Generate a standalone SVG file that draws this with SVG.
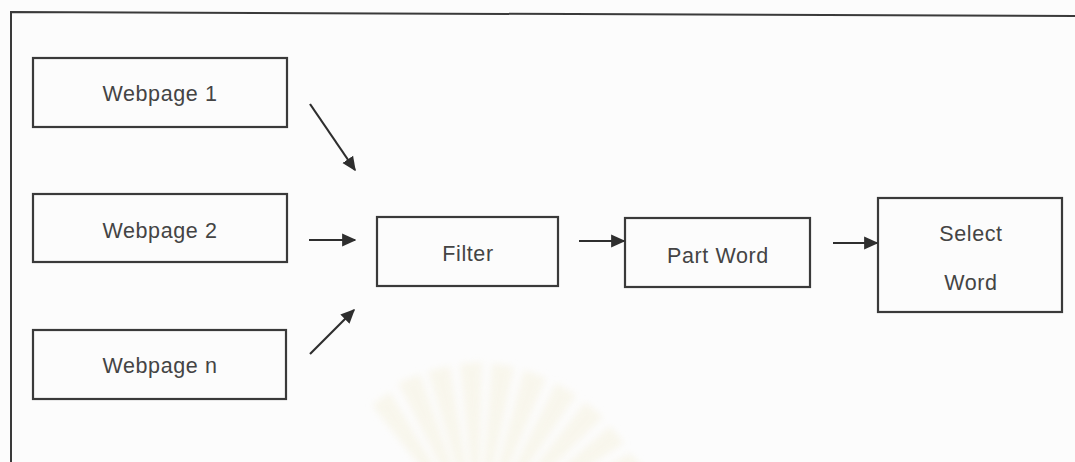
<svg xmlns="http://www.w3.org/2000/svg" width="1075" height="462" viewBox="0 0 1075 462">
  <style>
    .box { fill: none; stroke: #3a3a3a; stroke-width: 2.2; }
    .frame { fill: none; stroke: #3a3a3a; stroke-width: 2; }
    .label { font-family: "Liberation Sans", Arial, sans-serif; font-size: 21.5px; fill: #444; text-anchor: middle; letter-spacing: 0.6px; }
    .edge { stroke: #2e2e2e; stroke-width: 2.2; fill: none; marker-end: url(#arrow); }
  </style>
  <defs>
    <marker id="arrow" viewBox="0 0 10 10" refX="9" refY="5" markerWidth="6.5" markerHeight="6.5" markerUnits="strokeWidth" orient="auto">
      <path d="M0,0.5 L10,5 L0,9.5 z" fill="#2e2e2e"/>
    </marker>
    <filter id="soft" x="-20%" y="-20%" width="140%" height="140%">
      <feGaussianBlur stdDeviation="3.5"/>
    </filter>
  </defs>

  <rect x="0" y="0" width="1075" height="462" fill="#fcfcfc"/>

  <!-- faint fan emblem in the background -->
  <g id="emblem" filter="url(#soft)" fill="#f7f4e6" opacity="0.7">
    <path d="M478,540 L398,383 L420,374 Z"/>
    <path d="M478,540 L428,371 L450,366 Z"/>
    <path d="M478,540 L460,364 L482,362 Z"/>
    <path d="M478,540 L492,363 L514,367 Z"/>
    <path d="M478,540 L524,370 L546,378 Z"/>
    <path d="M478,540 L556,383 L576,395 Z"/>
    <path d="M478,540 L585,402 L603,417 Z"/>
    <path d="M478,540 L610,426 L624,443 Z"/>
    <path d="M478,540 L630,453 L645,470 Z"/>
    <path d="M478,540 L372,405 L390,392 Z"/>
  </g>

  <!-- outer frame: top and left edges -->
  <path class="frame" d="M11,462 L11,12 L1075,16"/>

  <g id="webpage1">
    <rect class="box" x="33" y="58" width="254" height="69"/>
    <text class="label" x="160" y="101">Webpage 1</text>
  </g>
  <g id="webpage2">
    <rect class="box" x="33" y="194" width="254" height="68"/>
    <text class="label" x="160" y="238">Webpage 2</text>
  </g>
  <g id="webpagen">
    <rect class="box" x="33" y="330" width="253" height="69"/>
    <text class="label" x="160" y="373">Webpage n</text>
  </g>
  <g id="filter">
    <rect class="box" x="377" y="217" width="181" height="69"/>
    <text class="label" x="468" y="261">Filter</text>
  </g>
  <g id="partword">
    <rect class="box" x="625" y="218" width="185" height="69"/>
    <text class="label" x="718" y="263">Part Word</text>
  </g>
  <g id="selectword">
    <rect class="box" x="878" y="198" width="184" height="114"/>
    <text class="label" x="971" y="241">Select</text>
    <text class="label" x="971" y="290">Word</text>
  </g>

  <g id="connectors">
    <line class="edge" x1="310" y1="104" x2="355" y2="170"/>
    <line class="edge" x1="309" y1="240" x2="355" y2="240"/>
    <line class="edge" x1="310" y1="354" x2="354" y2="310"/>
    <line class="edge" x1="579" y1="241" x2="624" y2="241"/>
    <line class="edge" x1="833" y1="243" x2="877" y2="243"/>
  </g>
</svg>
